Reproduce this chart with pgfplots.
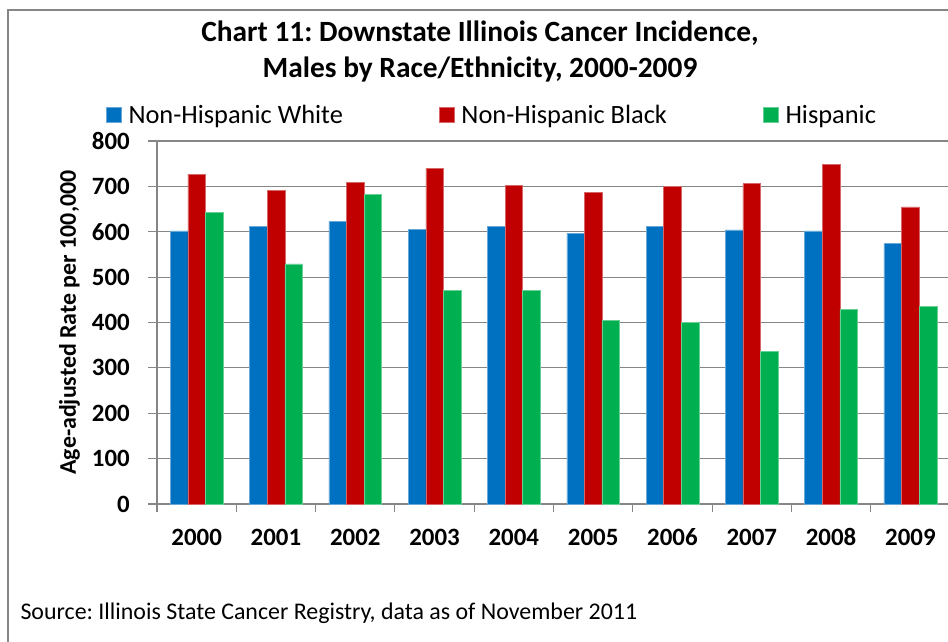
\documentclass[border=0pt]{standalone}
\usepackage{fontspec}
\setmainfont{Carlito}
\usepackage{pgfplots}
\usepackage{pgfplotstable}
\pgfplotsset{compat=1.18}
\frenchspacing

\definecolor{nhw}{RGB}{0,112,192}
\definecolor{nhb}{RGB}{192,0,0}
\definecolor{hisp}{RGB}{0,176,80}
\definecolor{gridgray}{RGB}{134,134,134}

% rates per 100,000, years 2000-2009 at x = 0..9
\pgfplotstableread{
x white black hisp
0 602 727 643
1 611 691 529
2 623 709 683
3 606 739 471
4 612 703 470
5 597 686 405
6 611 700 401
7 604 706 337
8 602 749 429
9 574 655 435
}\cancerdata

\begin{document}
\begin{tikzpicture}[x=1bp,y=1bp]
  \useasboundingbox (0,0) rectangle (948,642);
  \draw[gridgray, line width=1.3bp] (8,-20) rectangle (980,632);

  \node[font=\fontsize{29.5}{34}\selectfont\bfseries, anchor=base] at (480,600)
    {Chart 11: Downstate Illinois Cancer Incidence,};
  \node[font=\fontsize{29.5}{34}\selectfont\bfseries, anchor=base] at (480,564)
    {Males by Race/Ethnicity, 2000-2009};

  \begin{axis}[
    at={(157bp,138bp)}, anchor=south west,
    scale only axis, width=793bp, height=363bp,
    ybar=0pt, bar width=17.6bp,
    xmin=-0.5, xmax=9.5, ymin=0, ymax=800,
    xtick={0,...,9},
    xticklabels={2000,2001,2002,2003,2004,2005,2006,2007,2008,2009},
    minor xtick={-0.5,0.5,...,9.5},
    ytick={0,100,...,800},
    axis x line*=bottom, axis y line*=left,
    axis line style={gridgray, line width=1.1bp, -},
    ymajorgrids, grid style={gridgray, line width=1.1bp},
    tick align=outside,
    major tick length=9bp, minor tick length=8bp,
    x tick style={draw=none},
    minor x tick style={draw=gridgray, line width=1.1bp},
    y tick style={gridgray, line width=1.1bp},
    /pgf/number format/assume math mode=true,
    ticklabel style={font=\fontsize{25}{30}\selectfont\bfseries, inner sep=0pt},
    yticklabel style={anchor=east, xshift=-18bp},
    xticklabel style={anchor=base, yshift=-33bp},
    ylabel={Age-adjusted Rate per 100,000},
    ylabel style={font=\fontsize{24}{28}\selectfont\bfseries,
      at={(axis description cs:-0.1103,0.5)}, anchor=center},
    legend columns=3,
    legend style={draw=none, fill=none, inner sep=0pt, outer sep=0pt,
      at={(axis description cs:-0.0643,1.0716)}, anchor=west,
      font=\fontsize{26.5}{31}\selectfont,
      nodes={inner sep=0pt},
      /tikz/every odd column/.append style={column sep=7bp},
      /tikz/every even column/.append style={column sep=96bp}},
    legend image code/.code={\fill[#1] (0bp,-7.5bp) rectangle (15bp,7.5bp);},
    clip=false,
  ]
    \addplot[fill=nhw, draw=nhw!60!white, line width=0.5bp] table[x=x, y=white] {\cancerdata};
    \addplot[fill=nhb, draw=nhb!60!white, line width=0.5bp] table[x=x, y=black] {\cancerdata};
    \addplot[fill=hisp, draw=hisp!60!white, line width=0.5bp] table[x=x, y=hisp] {\cancerdata};
    \legend{Non-Hispanic White, Non-Hispanic Black, Hispanic}
  \end{axis}

  \node[font=\fontsize{24}{28}\selectfont, anchor=base west] at (17,22)
    {Source: Illinois State Cancer Registry, data as of November 2011};
\end{tikzpicture}
\end{document}
